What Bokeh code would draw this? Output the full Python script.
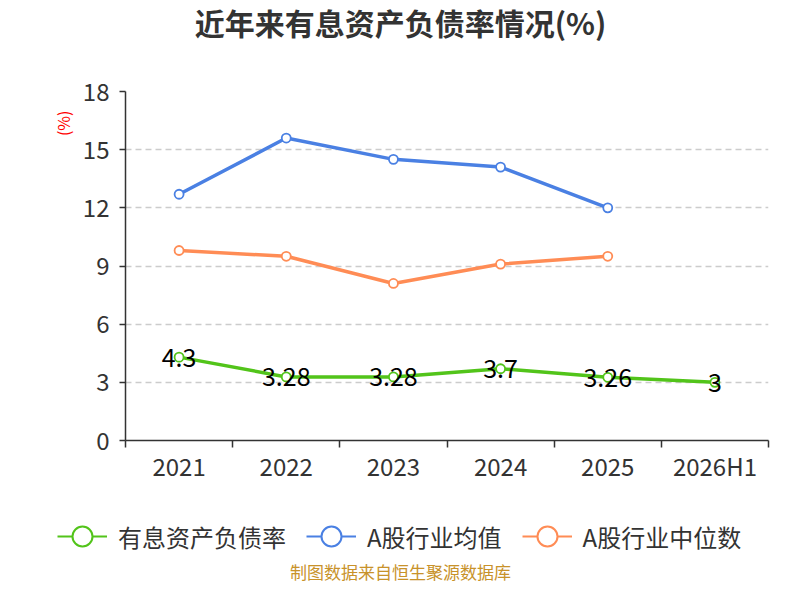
from bokeh.embed import file_html
from bokeh.resources import INLINE
from bokeh.plotting import figure
from bokeh.layouts import column, row
from bokeh.models import (ColumnDataSource, Range1d, FixedTicker, Label,
                          Legend, LegendItem, Title)
from bokeh.core.properties import value

# data
categories = ["2021", "2022", "2023", "2024", "2025", "2026H1"]
ibd_ratio = [4.3, 3.28, 3.28, 3.7, 3.26, 3]          # 有息资产负债率
industry_avg = [12.7, 15.6, 14.5, 14.1, 12.0]        # A股行业均值
industry_median = [9.8, 9.5, 8.1, 9.1, 9.5]          # A股行业中位数
y_ticks = [0, 3, 6, 9, 12, 15, 18]

FONT = "Noto Sans CJK SC"

series = [
    ("有息资产负债率", ibd_ratio, "#52c41a"),
    ("A股行业均值", industry_avg, "#4a80e3"),
    ("A股行业中位数", industry_median, "#ff8c55"),
]


def strip(height, x0, x1, y0=0):
    # text-only band without axes, ranges in pixels (y grows downwards)
    f = figure(width=784, height=height, output_backend="svg",
               toolbar_location=None, x_range=Range1d(x0, x1),
               y_range=Range1d(y0 + height, y0), min_border=0,
               x_axis_type=None, y_axis_type=None)
    f.outline_line_color = None
    f.grid.grid_line_color = None
    return f


# title band (its frame lines up with the main chart's frame)
t = strip(44, 125, 768)
t.add_layout(Label(x=400, y=21, text="近年来有息资产负债率情况(%)",
                   text_align="center", text_baseline="middle",
                   text_font=FONT, text_font_size="30px",
                   text_font_style="bold", text_color="#333333"))

# main chart
p = figure(width=784, height=441, output_backend="svg", toolbar_location=None,
           x_range=Range1d(0, len(categories)), y_range=Range1d(0, 18),
           min_border_left=125, min_border_right=16, min_border_top=47,
           min_border_bottom=45)
p.outline_line_color = None
p.xgrid.grid_line_color = None
p.ygrid.grid_line_color = "#cccccc"
p.ygrid.grid_line_dash = "6 4"
p.ygrid.grid_line_width = 1.5

# unit note on the left of the value axis
p.add_layout(Title(text="(%)", align="right", offset=19, standoff=10,
                   text_font=FONT, text_font_size="16px",
                   text_font_style="normal", text_color="#ff0000"), "left")

# x axis: labels at band centres, ticks at band boundaries
centers = [i + 0.5 for i in range(len(categories))]
p.xaxis.ticker = FixedTicker(ticks=centers,
                             minor_ticks=list(range(len(categories) + 1)))
p.xaxis.major_label_overrides = {c: lab for c, lab in zip(centers, categories)}
p.xaxis.major_tick_out = 0
p.xaxis.major_tick_in = 0
p.xaxis.minor_tick_out = 7
p.xaxis.minor_tick_in = 0
p.xaxis.minor_tick_line_color = "#333333"
p.xaxis.minor_tick_line_width = 1.5

p.yaxis.ticker = FixedTicker(ticks=y_ticks)
p.yaxis.major_tick_out = 6
p.yaxis.major_tick_in = 0
p.yaxis.minor_tick_line_color = None

for ax in (p.xaxis[0], p.yaxis[0]):
    ax.axis_line_color = "#333333"
    ax.axis_line_width = 1.5
    ax.major_tick_line_color = "#333333"
    ax.major_tick_line_width = 1.5
    ax.major_label_text_font = FONT
    ax.major_label_text_font_size = "24px"
    ax.major_label_text_color = "#333333"
p.xaxis.major_label_standoff = 0
p.yaxis.major_label_standoff = 10

# legend + source band, full width; its ranges are offset by 100 so the
# series it carries for the legend symbols fall outside its frame
OFF = 100
b = strip(99, OFF, OFF + 784, OFF)

legend_items = []
for name, vals, color in series:
    src = ColumnDataSource(dict(x=centers[:len(vals)], y=vals))
    p.line("x", "y", source=src, line_color=color, line_width=3.5)
    p.scatter("x", "y", source=src, size=9, fill_color="white",
              line_color=color, line_width=1.8)
    lr = b.line("x", "y", source=src, line_color=color, line_width=2)
    sr = b.scatter("x", "y", source=src, fill_color="white",
                   line_color=color, line_width=2)
    legend_items.append(LegendItem(label=name, renderers=[lr, sr]))

# value labels on the main series
lab_src = ColumnDataSource(dict(x=centers[:len(ibd_ratio)], y=ibd_ratio,
                                t=[f"{v:g}" for v in ibd_ratio]))
p.text("x", "y", text="t", source=lab_src, text_align="center",
       text_baseline="middle", text_font=value(FONT),
       text_font_size="25px", text_color="#000000")

legend = Legend(items=legend_items, orientation="horizontal",
                location=(57, 21), glyph_width=50, glyph_height=54,
                label_height=54, label_standoff=11, spacing=20, padding=0,
                margin=0, background_fill_alpha=0, border_line_alpha=0,
                label_text_font=FONT, label_text_font_size="24px",
                label_text_color="#333333")
b.add_layout(legend, "center")

b.add_layout(Label(x=OFF + 400, y=OFF + 86, text="制图数据来自恒生聚源数据库",
                   text_align="center", text_baseline="middle",
                   text_font=FONT, text_font_size="17px",
                   text_color="#c8922a"))

open("out.html", "w").write(file_html(column(t, p, row(b)), INLINE))
